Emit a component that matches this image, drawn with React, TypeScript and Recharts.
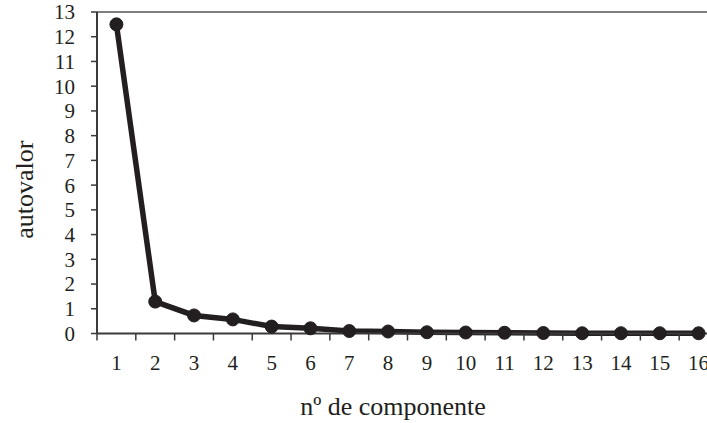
import React from "react";
import { LineChart, Line, XAxis, YAxis, ReferenceLine } from "recharts";

const componentes = [1, 2, 3, 4, 5, 6, 7, 8, 9, 10, 11, 12, 13, 14, 15, 16];
const autovalores = [12.5, 1.29, 0.73, 0.57, 0.28, 0.21, 0.1, 0.08, 0.05, 0.04, 0.03, 0.02, 0.01, 0.01, 0.01, 0.01];
const yTicks = [0, 1, 2, 3, 4, 5, 6, 7, 8, 9, 10, 11, 12, 13];
const xTitle = "nº de componente";
const yTitle = "autovalor";

const data = componentes.map((c, i) => ({ componente: c, autovalor: autovalores[i] }));
const boundaryTicks = componentes.map((c) => c - 0.5).concat([componentes[componentes.length - 1] + 0.5]);

const FONT = '"Liberation Serif", "Times New Roman", serif';
const INK = "#231f20";
const AXIS = "#3a3a3a";

const YLabel = (props: any) => {
  const vb = props.viewBox || {};
  const x = vb.x + 24;
  const y = vb.y + vb.height / 2 + 17;
  return (
    <text x={x} y={y} transform={`rotate(-90, ${x}, ${y})`} textAnchor="middle" dominantBaseline="central" style={{ fontFamily: FONT }} fontSize={26} fill={INK}>
      {yTitle}
    </text>
  );
};

const XLabel = (props: any) => {
  const vb = props.viewBox || {};
  const x = 393;
  const y = vb.y + 73;
  return (
    <text x={x} y={y} textAnchor="middle" style={{ fontFamily: FONT }} fontSize={26} fill={INK}>
      {xTitle}
    </text>
  );
};

export default function App() {
  return (
    <div style={{ position: "absolute", left: 0, top: 0, width: 707, height: 423, overflow: "hidden", background: "#fff" }}>
      <LineChart width={720} height={423} data={data} margin={{ top: 12, right: 2, left: 0, bottom: 0 }}>
        <XAxis
          dataKey="componente"
          type="number"
          domain={[0.5, 16.5]}
          ticks={boundaryTicks}
          tickFormatter={() => ""}
          height={8}
          tickSize={7}
          axisLine={{ stroke: AXIS, strokeWidth: 2 }}
          tickLine={{ stroke: AXIS, strokeWidth: 1.5 }}
          allowDataOverflow
        />
        <XAxis
          xAxisId="lbl"
          dataKey="componente"
          type="number"
          domain={[0.5, 16.5]}
          ticks={componentes}
          height={81.5}
          tickSize={0}
          tickMargin={14}
          axisLine={false}
          tickLine={false}
          interval={0}
          tick={{ fontFamily: FONT, fontSize: 21, fill: INK }}
          label={<XLabel />}
        />
        <YAxis
          type="number"
          domain={[0, 13]}
          ticks={yTicks}
          interval={0}
          width={97}
          tickSize={6}
          tickMargin={16}
          axisLine={{ stroke: AXIS, strokeWidth: 2 }}
          tickLine={{ stroke: AXIS, strokeWidth: 1.5 }}
          tick={{ fontFamily: FONT, fontSize: 21, fill: INK }}
          label={<YLabel />}
        />
        <ReferenceLine y={13} stroke="#555555" strokeWidth={1.5} />
        <Line
          dataKey="autovalor"
          stroke={INK}
          strokeWidth={5.5}
          dot={{ r: 6.5, fill: INK, stroke: INK, strokeWidth: 1 }}
          isAnimationActive={false}
        />
      </LineChart>
    </div>
  );
}
